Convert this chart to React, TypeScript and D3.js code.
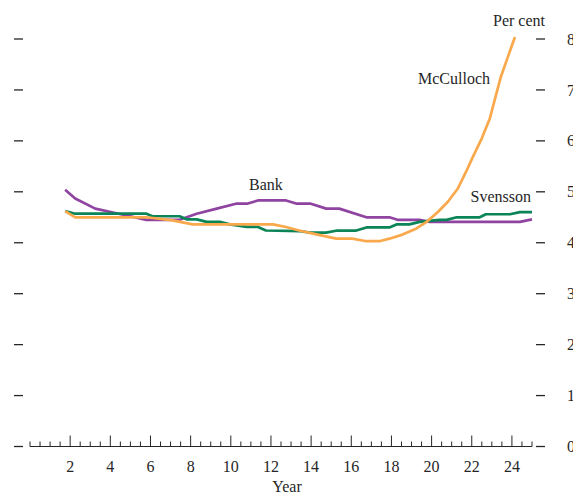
import React from "react";
import * as d3 from "d3";

// Zero-coupon yield curves, per cent, by maturity in years
const bankYears = [1.75, 2.25, 3.25, 4.3, 5.8, 7.45, 8.3, 9.3, 10.3, 10.85, 11.35, 12.75, 13.25, 13.95, 14.75, 15.4, 16.75, 17.9, 18.3, 19.4, 19.9, 24.4, 25];
const bankRates = [5.04, 4.87, 4.67, 4.58, 4.45, 4.45, 4.57, 4.67, 4.77, 4.77, 4.83, 4.83, 4.77, 4.77, 4.67, 4.67, 4.5, 4.5, 4.45, 4.45, 4.41, 4.41, 4.46];

const svenssonYears = [1.75, 2.25, 5.8, 6.1, 7.45, 7.8, 8.3, 8.8, 9.45, 9.95, 10.8, 11.35, 11.75, 13.4, 13.95, 14.75, 15.3, 16.25, 16.75, 17.9, 18.25, 18.9, 19.4, 20.4, 20.75, 21.25, 22.4, 22.7, 23.9, 24.4, 25];
const svenssonRates = [4.62, 4.57, 4.57, 4.52, 4.52, 4.46, 4.46, 4.41, 4.41, 4.36, 4.31, 4.31, 4.24, 4.23, 4.2, 4.2, 4.24, 4.24, 4.3, 4.3, 4.36, 4.36, 4.41, 4.45, 4.45, 4.5, 4.5, 4.56, 4.56, 4.6, 4.6];

const mccullochYears = [1.75, 2.25, 5.8, 7.1, 8.1, 12.1, 12.75, 13.4, 14.1, 15.25, 16.05, 16.75, 17.4, 17.9, 18.55, 19.25, 19.75, 20.3, 20.8, 21.3, 21.7, 22.05, 22.5, 22.9, 23.45, 23.8, 24.15];
const mccullochRates = [4.62, 4.5, 4.5, 4.44, 4.36, 4.36, 4.31, 4.24, 4.18, 4.08, 4.08, 4.03, 4.03, 4.08, 4.16, 4.28, 4.41, 4.6, 4.8, 5.06, 5.38, 5.68, 6.05, 6.44, 7.26, 7.65, 8.04];

const yTicks = [0, 1, 2, 3, 4, 5, 6, 7, 8];
const xLabelTicks = [2, 4, 6, 8, 10, 12, 14, 16, 18, 20, 22, 24];

const series = [
  { name: "Bank", years: bankYears, rates: bankRates, color: "#8e44a0" },
  { name: "Svensson", years: svenssonYears, rates: svenssonRates, color: "#0b8457" },
  { name: "McCulloch", years: mccullochYears, rates: mccullochRates, color: "#f9a84c" },
];

const W = 573;
const H = 494;
const FONT = "'Liberation Serif', 'DejaVu Serif', serif";
const TEXT = "#262626";

export default function App() {
  const x = d3.scaleLinear().domain([0, 25]).range([30, 532]);
  const y = d3.scaleLinear().domain([0, 8]).range([446.5, 39]);
  const minorTicks = d3.range(0, 25.001, 0.5);

  const line = d3
    .line<[number, number]>()
    .x((d) => x(d[0]))
    .y((d) => y(d[1]));

  return (
    <svg
      width={W}
      height={H}
      style={{ position: "absolute", left: 0, top: 0, background: "#fff" }}
      fontFamily={FONT}
    >
      {/* left and right value ticks */}
      {yTicks.map((t) => (
        <g key={t}>
          <line x1={14} x2={23} y1={y(t)} y2={y(t)} stroke={TEXT} strokeWidth={1.3} />
          <line x1={536} x2={545} y1={y(t)} y2={y(t)} stroke={TEXT} strokeWidth={1.3} />
          <text x={567} y={y(t)} dy="0.35em" fontSize={16} fill={TEXT}>
            {t}
          </text>
        </g>
      ))}

      {/* maturity axis */}
      <line x1={x(0)} x2={x(25)} y1={y(0)} y2={y(0)} stroke={TEXT} strokeWidth={1.2} />
      {minorTicks.map((t) => {
        const major = Math.abs(t % 2) < 1e-9 && t > 0;
        return (
          <line
            key={t}
            x1={x(t)}
            x2={x(t)}
            y1={y(0)}
            y2={y(0) - (major ? 11 : 5)}
            stroke={TEXT}
            strokeWidth={1}
          />
        );
      })}
      {xLabelTicks.map((t) => (
        <text key={t} x={x(t)} y={472} textAnchor="middle" fontSize={16} fill={TEXT}>
          {t}
        </text>
      ))}
      <text x={287} y={492} textAnchor="middle" fontSize={16} fill={TEXT}>
        Year
      </text>
      <text x={545} y={26} textAnchor="end" fontSize={16} fill={TEXT}>
        Per cent
      </text>

      {/* curves */}
      {series.map((s) => (
        <path
          key={s.name}
          d={line(s.years.map((yr, i) => [yr, s.rates[i]] as [number, number])) || ""}
          fill="none"
          stroke={s.color}
          strokeWidth={2.7}
          strokeLinejoin="round"
        />
      ))}

      {/* series labels */}
      <text x={249} y={190} fontSize={16} fill={TEXT}>
        Bank
      </text>
      <text x={418} y={84} fontSize={16} fill={TEXT}>
        McCulloch
      </text>
      <text x={531} y={202} textAnchor="end" fontSize={16} fill={TEXT}>
        Svensson
      </text>
    </svg>
  );
}
